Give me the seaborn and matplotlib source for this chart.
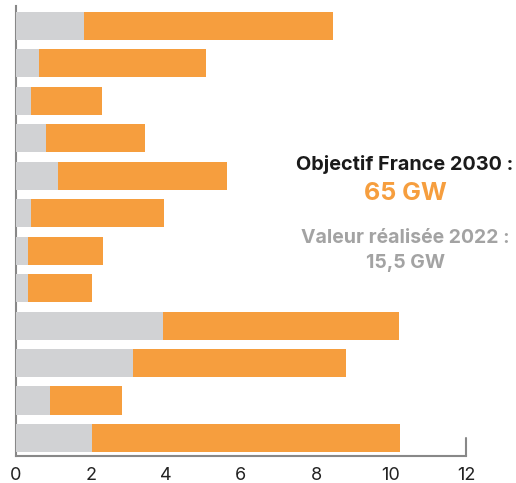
import matplotlib.pyplot as plt
import pandas as pd
import seaborn as sns

# bars, top to bottom (GW)
regions = ["R01", "R02", "R03", "R04", "R05", "R06",
           "R07", "R08", "R09", "R10", "R11", "R12"]
realise_2022 = [1.81, 0.61, 0.40, 0.80, 1.12, 0.40, 0.32, 0.32, 3.92, 3.12, 0.91, 2.03]
objectif_2030 = [8.45, 5.07, 2.29, 3.44, 5.63, 3.95, 2.32, 2.03, 10.21, 8.80, 2.83, 10.24]
xticks = [0, 2, 4, 6, 8, 10, 12]

df = pd.DataFrame({"region": regions, "realise": realise_2022, "objectif": objectif_2030})

sns.set_style("white")
plt.rcParams["font.family"] = ["Inter", "DejaVu Sans"]

ORANGE = "#F69E3E"
GREY = "#D1D2D4"

fig = plt.figure(figsize=(5.16, 4.83), dpi=100)
ax = fig.add_axes([16 / 516, 1 - 456 / 483, 450 / 516, 450 / 483])

sns.barplot(data=df, y="region", x="objectif", orient="h", color=ORANGE,
            width=0.75, saturation=1, linewidth=0, ax=ax)
sns.barplot(data=df, y="region", x="realise", orient="h", color=GREY,
            width=0.75, saturation=1, linewidth=0, ax=ax)

ax.set_xlim(0, 12)
ax.set_ylim(11.48, -0.53)
ax.set_xticks(xticks)
ax.set_xticklabels([str(t) for t in xticks], fontsize=13, color="#222222")
ax.set_yticks([])
ax.set_xlabel("")
ax.set_ylabel("")
ax.tick_params(axis="x", direction="in", length=5, width=1.2, color="#777777", pad=8)

for side in ["top", "right"]:
    ax.spines[side].set_visible(False)
for side in ["left", "bottom"]:
    ax.spines[side].set_color("#888888")
    ax.spines[side].set_linewidth(1.5)
ax.spines["left"].set_zorder(0)

# end tick at 12
ax.plot([12, 12], [11.48, 11.0], color="#888888", lw=1.5, clip_on=False)

fig.text(405 / 516, 1 - 165 / 483, "Objectif France 2030 :", ha="center", va="center",
         fontsize=14.3, fontweight="bold", color="#1a1a1a")
fig.text(405 / 516, 1 - 193 / 483, "65 GW", ha="center", va="center",
         fontsize=18, fontweight="bold", color=ORANGE)
fig.text(405 / 516, 1 - 238 / 483, "Valeur réalisée 2022 :", ha="center", va="center",
         fontsize=14, fontweight="bold", color="#A3A3A3")
fig.text(405 / 516, 1 - 263 / 483, "15,5 GW", ha="center", va="center",
         fontsize=14, fontweight="bold", color="#A3A3A3")

fig.savefig("out.png", dpi=100)
